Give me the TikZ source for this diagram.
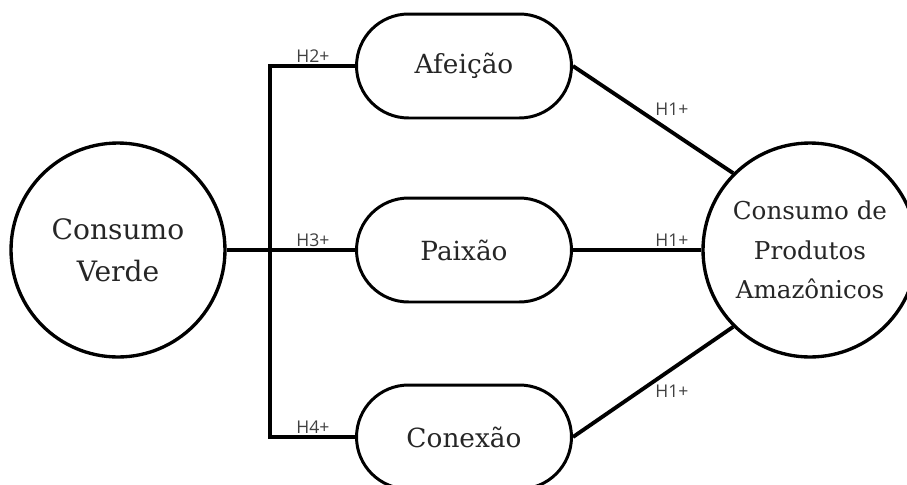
\documentclass[tikz,border=0pt]{standalone}
\usepackage{fontspec}
\setmainfont{DejaVu Serif}
\newfontfamily\hypfont{Open Sans}
\usetikzlibrary{calc}

\tikzset{
  construto/.style={circle, draw, line width=1.9pt, minimum size=4.28cm, inner sep=0pt, align=center, text=black!85},
  dimensao/.style={rectangle, draw, line width=1.7pt, rounded corners=1.04cm, minimum width=4.3cm, minimum height=2.08cm, text=black!85, font=\fontsize{15}{18}\selectfont},
  ligacao/.style={line width=2.2pt},
  hipotese/.style={font=\hypfont\fontsize{10}{12}\selectfont, text=black!75, inner sep=0pt, anchor=base}
}

\begin{document}
\begin{tikzpicture}[x=0.02cm, y=-0.02cm]
			%%%%% START %%%%%
			\useasboundingbox (0, 0) rectangle (907, 484);

			\node[construto, font=\fontsize{16}{24}\selectfont] (verde) at (118, 250) {Consumo\\Verde};
			\node[construto, font=\fontsize{14}{22.5}\selectfont] (amazonia) at (810, 250) {Consumo de\\Produtos\\Amazônicos};

			\node[dimensao] (afeicao) at (464, 66) {Afeição};
			\node[dimensao] (paixao) at (464, 250) {Paixão};
			\node[dimensao] (conexao) at (464, 437) {Conexão};

			\coordinate (bartop) at (270, 66);
			\coordinate (barbot) at (270, 437);

			\draw[ligacao] (verde.east) -- (paixao.west);
			\draw[ligacao] (afeicao.west) -- (bartop) -- (barbot) -- (conexao.west);

			\draw[ligacao] (afeicao.east) -- (amazonia.135);
			\draw[ligacao] (paixao.east) -- (amazonia.west);
			\draw[ligacao] (conexao.east) -- (amazonia.225);

			\node[hipotese] (h2) at (313, 62) {H2+};
			\node[hipotese] (h3) at (313, 246) {H3+};
			\node[hipotese] (h4) at (313, 433) {H4+};

			\node[hipotese] (h1a) at (672, 115) {H1+};
			\node[hipotese] (h1b) at (672, 246) {H1+};
			\node[hipotese] (h1c) at (672, 397) {H1+};
			%%%%% END %%%%%
\end{tikzpicture}
\end{document}
